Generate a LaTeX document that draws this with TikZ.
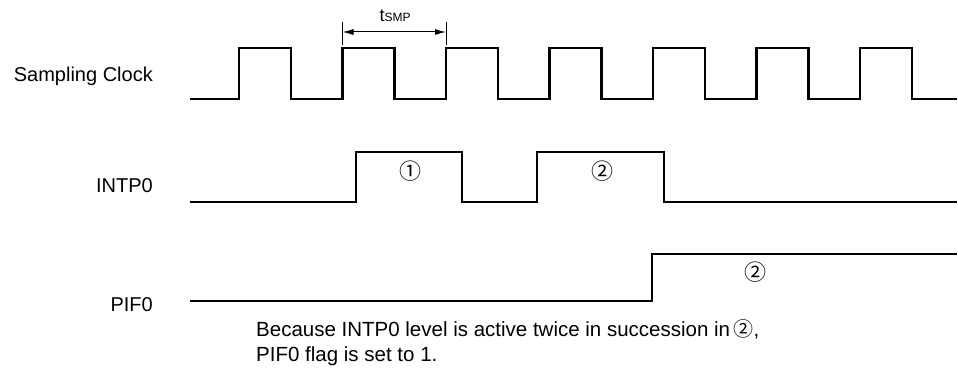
\documentclass[tikz,border=0pt]{standalone}
\usepackage{fontspec}
\setmainfont{Liberation Sans}
\newfontfamily\cjkfont{Noto Sans CJK JP}
\usetikzlibrary{arrows.meta}
\begin{document}
\begin{tikzpicture}[x=1pt,y=-1pt,
  wave/.style={line width=2.3pt, line cap=butt, line join=miter},
  lbl/.style={inner sep=0pt, font=\fontsize{20}{24}\selectfont, anchor=base east},
  note/.style={inner sep=0pt, font=\fontsize{20.5}{24}\selectfont, anchor=base west},
  circ/.style={inner sep=0pt, font=\cjkfont\fontsize{22}{24}\selectfont},
  dim/.style={line width=0.9pt},
  dimarrow/.style={line width=1pt, {Latex[length=11pt,width=6pt]}-{Latex[length=11pt,width=6pt]}}
]
\useasboundingbox (0,0) rectangle (958,371);

% labels
\node[lbl] (clk) at (153,82) {Sampling Clock};
\node[lbl] (intp) at (153,193) {INTP0};
\node[lbl] (pif) at (153,311) {PIF0};

% sampling clock
\draw[wave] (190,99) -- (239,99) -- (239,48) -- (291,48) -- (291,99)
  -- (342.5,99) -- (342.5,48) -- (394.5,48) -- (394.5,99)
  -- (446,99) -- (446,48) -- (498,48) -- (498,99)
  -- (549.5,99) -- (549.5,48) -- (601.5,48) -- (601.5,99)
  -- (653,99) -- (653,48) -- (705,48) -- (705,99)
  -- (756.5,99) -- (756.5,48) -- (808.5,48) -- (808.5,99)
  -- (860,99) -- (860,48) -- (912,48) -- (912,99) -- (957,99);

% tSMP dimension
\coordinate (ta) at (342.5,32);
\coordinate (tb) at (446,32);
\draw[dim] (342.5,22) -- (342.5,45);
\draw[dim] (446,22) -- (446,45);
\draw[dimarrow] (ta) -- (tb);
\node[inner sep=0pt, anchor=base] (tsmp) at (395,22) {\fontsize{18}{20}\selectfont t\fontsize{12}{14}\selectfont SMP};

% INTP0
\draw[wave] (190,202) -- (356,202) -- (356,152) -- (462,152) -- (462,202)
  -- (537,202) -- (537,152) -- (664,152) -- (664,202) -- (957,202);
\node[circ] (c1) at (410,171) {①};
\node[circ] (c2) at (602,171) {②};

% PIF0
\draw[wave] (190,301) -- (652,301) -- (652,254) -- (957,254);
\node[circ] (c3) at (755,272) {②};

% note
\node[note] (n1) at (256,336) {Because INTP0 level is active twice in succession in\,{\cjkfont\fontsize{20}{20}\selectfont ②},};
\node[note] (n2) at (256,361) {PIF0 flag is set to 1.};
\end{tikzpicture}
\end{document}
